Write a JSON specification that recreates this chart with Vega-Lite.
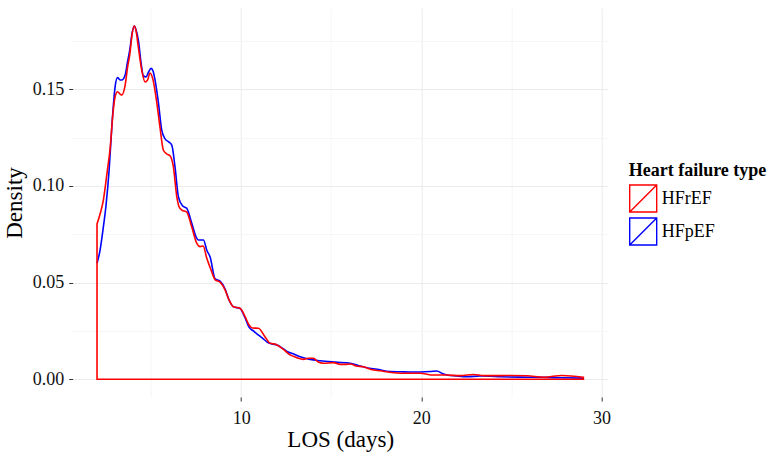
{
  "$schema": "https://vega.github.io/schema/vega-lite/v6.json",
  "width": 535,
  "height": 389,
  "autosize": "none",
  "padding": {"left": 72.7, "top": 8, "right": 172.3, "bottom": 60},
  "background": "white",
  "config": {"view": {"stroke": null}, "font": "Liberation Serif"},
  "data": {"values": [
    {"type": "HFpEF", "los": 2.0, "density": 0.060},
    {"type": "HFpEF", "los": 2.17, "density": 0.0668},
    {"type": "HFpEF", "los": 2.33, "density": 0.0772},
    {"type": "HFpEF", "los": 2.5, "density": 0.090},
    {"type": "HFpEF", "los": 2.67, "density": 0.108},
    {"type": "HFpEF", "los": 2.83, "density": 0.1317},
    {"type": "HFpEF", "los": 3.0, "density": 0.151},
    {"type": "HFpEF", "los": 3.14, "density": 0.156},
    {"type": "HFpEF", "los": 3.28, "density": 0.1548},
    {"type": "HFpEF", "los": 3.39, "density": 0.1548},
    {"type": "HFpEF", "los": 3.56, "density": 0.1573},
    {"type": "HFpEF", "los": 3.69, "density": 0.164},
    {"type": "HFpEF", "los": 3.83, "density": 0.171},
    {"type": "HFpEF", "los": 3.94, "density": 0.1786},
    {"type": "HFpEF", "los": 4.07, "density": 0.1827},
    {"type": "HFpEF", "los": 4.17, "density": 0.1806},
    {"type": "HFpEF", "los": 4.31, "density": 0.1744},
    {"type": "HFpEF", "los": 4.44, "density": 0.164},
    {"type": "HFpEF", "los": 4.57, "density": 0.157},
    {"type": "HFpEF", "los": 4.72, "density": 0.1563},
    {"type": "HFpEF", "los": 4.86, "density": 0.1589},
    {"type": "HFpEF", "los": 5.0, "density": 0.1608},
    {"type": "HFpEF", "los": 5.11, "density": 0.1594},
    {"type": "HFpEF", "los": 5.22, "density": 0.1548},
    {"type": "HFpEF", "los": 5.41, "density": 0.1429},
    {"type": "HFpEF", "los": 5.59, "density": 0.129},
    {"type": "HFpEF", "los": 5.78, "density": 0.1243},
    {"type": "HFpEF", "los": 5.96, "density": 0.1229},
    {"type": "HFpEF", "los": 6.15, "density": 0.1211},
    {"type": "HFpEF", "los": 6.33, "density": 0.1098},
    {"type": "HFpEF", "los": 6.52, "density": 0.0943},
    {"type": "HFpEF", "los": 6.76, "density": 0.0896},
    {"type": "HFpEF", "los": 6.98, "density": 0.0884},
    {"type": "HFpEF", "los": 7.26, "density": 0.0807},
    {"type": "HFpEF", "los": 7.5, "density": 0.0736},
    {"type": "HFpEF", "los": 7.63, "density": 0.072},
    {"type": "HFpEF", "los": 7.91, "density": 0.072},
    {"type": "HFpEF", "los": 8.09, "density": 0.0669},
    {"type": "HFpEF", "los": 8.28, "density": 0.0632},
    {"type": "HFpEF", "los": 8.56, "density": 0.0519},
    {"type": "HFpEF", "los": 8.83, "density": 0.0508},
    {"type": "HFpEF", "los": 9.11, "density": 0.0467},
    {"type": "HFpEF", "los": 9.33, "density": 0.041},
    {"type": "HFpEF", "los": 9.57, "density": 0.0375},
    {"type": "HFpEF", "los": 9.94, "density": 0.0366},
    {"type": "HFpEF", "los": 10.22, "density": 0.0317},
    {"type": "HFpEF", "los": 10.44, "density": 0.027},
    {"type": "HFpEF", "los": 10.68, "density": 0.025},
    {"type": "HFpEF", "los": 10.89, "density": 0.0234},
    {"type": "HFpEF", "los": 11.17, "density": 0.0214},
    {"type": "HFpEF", "los": 11.44, "density": 0.0193},
    {"type": "HFpEF", "los": 11.72, "density": 0.0183},
    {"type": "HFpEF", "los": 12.0, "density": 0.0177},
    {"type": "HFpEF", "los": 12.33, "density": 0.0159},
    {"type": "HFpEF", "los": 12.61, "density": 0.0141},
    {"type": "HFpEF", "los": 12.91, "density": 0.0131},
    {"type": "HFpEF", "los": 13.28, "density": 0.0117},
    {"type": "HFpEF", "los": 13.83, "density": 0.0103},
    {"type": "HFpEF", "los": 14.39, "density": 0.0096},
    {"type": "HFpEF", "los": 15.22, "density": 0.0089},
    {"type": "HFpEF", "los": 16.06, "density": 0.0083},
    {"type": "HFpEF", "los": 16.5, "density": 0.0071},
    {"type": "HFpEF", "los": 16.98, "density": 0.006},
    {"type": "HFpEF", "los": 17.54, "density": 0.0052},
    {"type": "HFpEF", "los": 18.28, "density": 0.004},
    {"type": "HFpEF", "los": 18.83, "density": 0.0039},
    {"type": "HFpEF", "los": 19.39, "density": 0.0038},
    {"type": "HFpEF", "los": 19.94, "density": 0.0038},
    {"type": "HFpEF", "los": 20.5, "density": 0.004},
    {"type": "HFpEF", "los": 20.87, "density": 0.0043},
    {"type": "HFpEF", "los": 21.17, "density": 0.003},
    {"type": "HFpEF", "los": 21.43, "density": 0.0022},
    {"type": "HFpEF", "los": 21.94, "density": 0.0017},
    {"type": "HFpEF", "los": 22.54, "density": 0.0013},
    {"type": "HFpEF", "los": 23.28, "density": 0.0017},
    {"type": "HFpEF", "los": 23.83, "density": 0.0016},
    {"type": "HFpEF", "los": 24.39, "density": 0.0013},
    {"type": "HFpEF", "los": 25.89, "density": 0.0011},
    {"type": "HFpEF", "los": 26.83, "density": 0.001},
    {"type": "HFpEF", "los": 27.72, "density": 0.0008},
    {"type": "HFpEF", "los": 29.0, "density": 0.0006},
    {"type": "HFrEF", "los": 2.0, "density": 0.0803},
    {"type": "HFrEF", "los": 2.17, "density": 0.0855},
    {"type": "HFrEF", "los": 2.35, "density": 0.0925},
    {"type": "HFrEF", "los": 2.56, "density": 0.107},
    {"type": "HFrEF", "los": 2.72, "density": 0.1186},
    {"type": "HFrEF", "los": 2.89, "density": 0.138},
    {"type": "HFrEF", "los": 3.0, "density": 0.146},
    {"type": "HFrEF", "los": 3.14, "density": 0.1487},
    {"type": "HFrEF", "los": 3.28, "density": 0.1475},
    {"type": "HFrEF", "los": 3.37, "density": 0.147},
    {"type": "HFrEF", "los": 3.56, "density": 0.152},
    {"type": "HFrEF", "los": 3.69, "density": 0.161},
    {"type": "HFrEF", "los": 3.83, "density": 0.1687},
    {"type": "HFrEF", "los": 3.94, "density": 0.178},
    {"type": "HFrEF", "los": 4.07, "density": 0.1827},
    {"type": "HFrEF", "los": 4.17, "density": 0.18},
    {"type": "HFrEF", "los": 4.29, "density": 0.172},
    {"type": "HFrEF", "los": 4.48, "density": 0.16},
    {"type": "HFrEF", "los": 4.67, "density": 0.1537},
    {"type": "HFrEF", "los": 4.81, "density": 0.1548},
    {"type": "HFrEF", "los": 4.94, "density": 0.1584},
    {"type": "HFrEF", "los": 5.09, "density": 0.1556},
    {"type": "HFrEF", "los": 5.32, "density": 0.1429},
    {"type": "HFrEF", "los": 5.5, "density": 0.13},
    {"type": "HFrEF", "los": 5.68, "density": 0.1186},
    {"type": "HFrEF", "los": 5.87, "density": 0.1165},
    {"type": "HFrEF", "los": 6.06, "density": 0.1155},
    {"type": "HFrEF", "los": 6.24, "density": 0.1098},
    {"type": "HFrEF", "los": 6.43, "density": 0.0943},
    {"type": "HFrEF", "los": 6.56, "density": 0.0891},
    {"type": "HFrEF", "los": 6.71, "density": 0.0875},
    {"type": "HFrEF", "los": 6.98, "density": 0.0865},
    {"type": "HFrEF", "los": 7.26, "density": 0.0787},
    {"type": "HFrEF", "los": 7.54, "density": 0.0703},
    {"type": "HFrEF", "los": 7.72, "density": 0.0686},
    {"type": "HFrEF", "los": 7.89, "density": 0.0689},
    {"type": "HFrEF", "los": 8.09, "density": 0.0627},
    {"type": "HFrEF", "los": 8.33, "density": 0.0565},
    {"type": "HFrEF", "los": 8.56, "density": 0.0514},
    {"type": "HFrEF", "los": 8.83, "density": 0.0503},
    {"type": "HFrEF", "los": 9.11, "density": 0.0462},
    {"type": "HFrEF", "los": 9.33, "density": 0.041},
    {"type": "HFrEF", "los": 9.57, "density": 0.0375},
    {"type": "HFrEF", "los": 9.94, "density": 0.0367},
    {"type": "HFrEF", "los": 10.22, "density": 0.0324},
    {"type": "HFrEF", "los": 10.44, "density": 0.0281},
    {"type": "HFrEF", "los": 10.64, "density": 0.0265},
    {"type": "HFrEF", "los": 10.96, "density": 0.0264},
    {"type": "HFrEF", "los": 11.33, "density": 0.0219},
    {"type": "HFrEF", "los": 11.61, "density": 0.0186},
    {"type": "HFrEF", "los": 11.94, "density": 0.018},
    {"type": "HFrEF", "los": 12.35, "density": 0.0155},
    {"type": "HFrEF", "los": 12.72, "density": 0.0126},
    {"type": "HFrEF", "los": 13.06, "density": 0.0113},
    {"type": "HFrEF", "los": 13.46, "density": 0.0103},
    {"type": "HFrEF", "los": 13.72, "density": 0.0109},
    {"type": "HFrEF", "los": 14.02, "density": 0.0109},
    {"type": "HFrEF", "los": 14.28, "density": 0.0089},
    {"type": "HFrEF", "los": 14.57, "density": 0.0083},
    {"type": "HFrEF", "los": 15.13, "density": 0.0086},
    {"type": "HFrEF", "los": 15.5, "density": 0.0077},
    {"type": "HFrEF", "los": 15.78, "density": 0.0077},
    {"type": "HFrEF", "los": 16.06, "density": 0.0079},
    {"type": "HFrEF", "los": 16.39, "density": 0.0069},
    {"type": "HFrEF", "los": 16.79, "density": 0.0065},
    {"type": "HFrEF", "los": 17.22, "density": 0.0051},
    {"type": "HFrEF", "los": 17.72, "density": 0.0044},
    {"type": "HFrEF", "los": 18.46, "density": 0.0034},
    {"type": "HFrEF", "los": 19.21, "density": 0.0031},
    {"type": "HFrEF", "los": 19.94, "density": 0.0031},
    {"type": "HFrEF", "los": 20.68, "density": 0.0022},
    {"type": "HFrEF", "los": 21.43, "density": 0.0022},
    {"type": "HFrEF", "los": 22.17, "density": 0.0019},
    {"type": "HFrEF", "los": 22.91, "density": 0.0025},
    {"type": "HFrEF", "los": 23.46, "density": 0.0019},
    {"type": "HFrEF", "los": 24.39, "density": 0.0019},
    {"type": "HFrEF", "los": 24.94, "density": 0.002},
    {"type": "HFrEF", "los": 25.89, "density": 0.0018},
    {"type": "HFrEF", "los": 26.83, "density": 0.0011},
    {"type": "HFrEF", "los": 27.81, "density": 0.002},
    {"type": "HFrEF", "los": 29.0, "density": 0.0011}
  ]},
  "encoding": {
    "x": {
      "field": "los", "type": "quantitative",
      "scale": {"domain": [0.65, 30.35], "nice": false, "zero": false},
      "axis": {
        "title": "LOS (days)", "titleFontSize": 23, "titleFontWeight": "normal", "titleColor": "#000000", "titlePadding": 1,
        "values": [5, 10, 15, 20, 25, 30],
        "labelExpr": "datum.value % 10 === 0 ? datum.label : ''",
        "labelFontSize": 18, "labelColor": "#111111", "labelPadding": 8,
        "domain": false, "tickSize": 4,
        "tickColor": {"condition": {"test": "datum.value % 10 === 0", "value": "#333333"}, "value": "transparent"},
        "grid": true,
        "gridColor": {"condition": {"test": "datum.value % 10 === 0", "value": "#ebebeb"}, "value": "#f6f6f6"}
      }
    },
    "y": {
      "field": "density", "type": "quantitative",
      "scale": {"domain": [-0.00915, 0.192], "nice": false, "zero": false},
      "axis": {
        "title": "Density", "titleFontSize": 23, "titleFontWeight": "normal", "titleColor": "#000000", "titlePadding": 6,
        "values": [0, 0.025, 0.05, 0.075, 0.1, 0.125, 0.15, 0.175],
        "format": ".2f",
        "labelExpr": "round(datum.value * 1000) % 50 === 0 ? datum.label : ''",
        "labelFontSize": 18, "labelColor": "#111111", "labelPadding": 5,
        "domain": false, "tickSize": 4,
        "tickColor": {"condition": {"test": "round(datum.value * 1000) % 50 === 0", "value": "#333333"}, "value": "transparent"},
        "grid": true,
        "gridColor": {"condition": {"test": "round(datum.value * 1000) % 50 === 0", "value": "#ebebeb"}, "value": "#f6f6f6"}
      }
    },
    "stroke": {
      "field": "type", "type": "nominal",
      "scale": {"domain": ["HFrEF", "HFpEF"], "range": ["#FF0000", "#0000FF"]},
      "legend": {
        "title": "Heart failure type",
        "orient": "none", "legendX": 556, "legendY": 154,
        "titleFontSize": 18, "titleFontWeight": "bold", "titleColor": "#000000", "titlePadding": 4,
        "labelFontSize": 18, "labelColor": "#000000", "labelOffset": 4,
        "symbolType": "M-1,-1H1V1H-1Z M-1,1L1,-1",
        "symbolSize": 729, "symbolStrokeWidth": 1.4, "symbolFillColor": "transparent",
        "rowPadding": 0, "padding": 0
      }
    }
  },
  "layer": [
    {
      "transform": [{"filter": "datum.type === 'HFpEF'"}],
      "mark": {"type": "line", "strokeWidth": 1.6, "interpolate": "monotone"}
    },
    {
      "transform": [{"filter": "datum.type === 'HFrEF'"}],
      "mark": {"type": "area", "fill": "transparent", "strokeWidth": 1.6, "interpolate": "monotone"},
      "encoding": {"y2": {"datum": 0}}
    }
  ]
}
